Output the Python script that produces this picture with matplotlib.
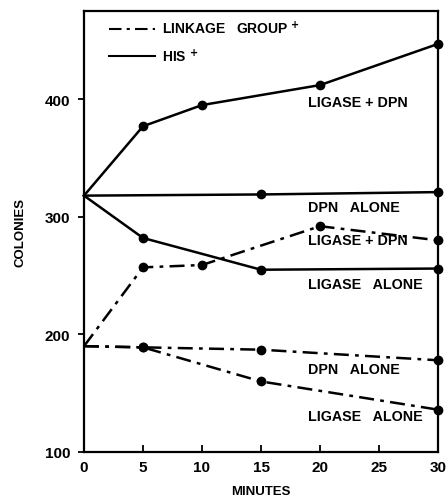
import matplotlib
matplotlib.use("Agg")
import matplotlib.pyplot as plt
from matplotlib.lines import Line2D

plt.rcParams['font.family'] = ['Liberation Sans', 'DejaVu Sans']
plt.rcParams['font.weight'] = 'bold'

# HIS+ series (solid)
his_lig_dpn_t = [0, 5, 10, 20, 30]
his_lig_dpn_v = [318, 377, 395, 412, 447]
his_dpn_t = [0, 15, 30]
his_dpn_v = [318, 319, 321]
his_lig_t = [0, 5, 15, 30]
his_lig_v = [318, 282, 255, 256]

# Linkage group+ series (dash-dot)
lg_lig_dpn_t = [0, 5, 10, 20, 30]
lg_lig_dpn_v = [190, 257, 259, 292, 280]
lg_dpn_t = [0, 5, 15, 30]
lg_dpn_v = [190, 189, 187, 178]
lg_lig_t = [0, 5, 15, 30]
lg_lig_v = [190, 189, 160, 136]

x_ticks = [0, 5, 10, 15, 20, 25, 30]
y_ticks = [100, 200, 300, 400]

fig = plt.figure(figsize=(4.46, 5.02), dpi=100)
ax = fig.add_axes([84/446, 1 - 453/502, (438-84)/446, (453-12)/502])

dashdot = (0, (6, 2.5, 1.5, 2.5))
lw = 1.8
ms = 6

for t, v in [(his_lig_dpn_t, his_lig_dpn_v), (his_dpn_t, his_dpn_v), (his_lig_t, his_lig_v)]:
    ax.plot(t, v, color='black', lw=lw, ls='-', marker='o', ms=ms,
            markevery=list(range(1, len(t))), clip_on=False)
for t, v in [(lg_lig_dpn_t, lg_lig_dpn_v), (lg_dpn_t, lg_dpn_v), (lg_lig_t, lg_lig_v)]:
    ax.plot(t, v, color='black', lw=lw, ls=dashdot, marker='o', ms=ms,
            markevery=list(range(1, len(t))), clip_on=False)

ax.set_xlim(0, 30)
ax.set_ylim(100, 475)
ax.set_xticks(x_ticks)
ax.set_yticks(y_ticks)
ax.set_xticklabels([str(x) for x in x_ticks], fontsize=11, fontweight='bold')
ax.set_yticklabels([str(y) for y in y_ticks], fontsize=11, fontweight='bold')
ax.tick_params(axis='x', direction='in', length=5, width=1.3, pad=6)
ax.tick_params(axis='y', direction='out', length=4, width=1.3, pad=6)
for s in ax.spines.values():
    s.set_linewidth(1.6)

ax.set_xlabel('MINUTES', fontsize=9.5, fontweight='bold', labelpad=8)
ax.set_ylabel('COLONIES', fontsize=9.5, fontweight='bold', labelpad=13)

fs = 10.3
ax.text(19.0, 398, 'LIGASE + DPN', fontsize=fs, fontweight='bold', va='center')
ax.text(19.0, 308, 'DPN   ALONE', fontsize=fs, fontweight='bold', va='center')
ax.text(19.0, 280, 'LIGASE + DPN', fontsize=fs, fontweight='bold', va='center')
ax.text(19.0, 243, 'LIGASE   ALONE', fontsize=fs, fontweight='bold', va='center')
ax.text(19.0, 171, 'DPN   ALONE', fontsize=fs, fontweight='bold', va='center')
ax.text(19.0, 131, 'LIGASE   ALONE', fontsize=fs, fontweight='bold', va='center')

handles = [Line2D([], [], color='black', lw=1.5, ls=dashdot),
           Line2D([], [], color='black', lw=1.5, ls='-')]
labels = ['LINKAGE   GROUP $^{\\mathbf{+}}$', 'HIS $^{\\mathbf{+}}$']
ax.legend(handles, labels, loc='upper left', frameon=False,
          handlelength=3.3, handletextpad=0.5, labelspacing=0.75,
          bbox_to_anchor=(0.035, 1.01), prop={'weight': 'bold', 'size': 10})

fig.savefig('out.png', dpi=100)
